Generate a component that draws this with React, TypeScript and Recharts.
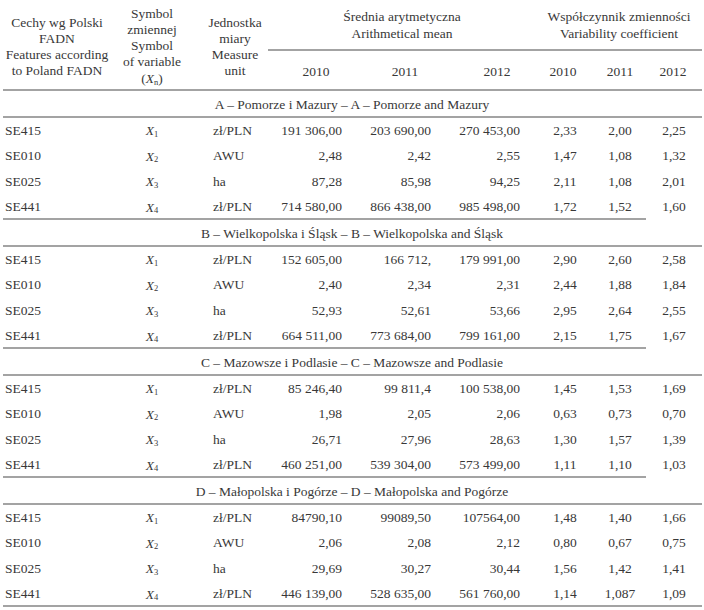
import { ScatterChart, Scatter, XAxis, YAxis, ReferenceLine } from 'recharts';

// --- table content ---
const HEAD_FEATURE = ['Cechy wg Polski', 'FADN', 'Features according', 'to Poland FADN'];
const HEAD_SYMBOL = ['Symbol', 'zmiennej', 'Symbol', 'of variable'];
const HEAD_UNIT = ['Jednostka', 'miary', 'Measure', 'unit'];
const HEAD_MEAN = ['Średnia arytmetyczna', 'Arithmetical mean'];
const HEAD_CV = ['Współczynnik zmienności', 'Variability coefficient'];
const YEARS = ['2010', '2011', '2012'];

const FEATURES = ['SE415', 'SE010', 'SE025', 'SE441'];
const SYMBOLS = ['1', '2', '3', '4'];
const UNITS = ['zł/PLN', 'AWU', 'ha', 'zł/PLN'];

const REGIONS = [
  'A – Pomorze i Mazury – A – Pomorze and Mazury',
  'B – Wielkopolska i Śląsk – B – Wielkopolska and Śląsk',
  'C – Mazowsze i Podlasie – C – Mazowsze and Podlasie',
  'D – Małopolska i Pogórze – D – Małopolska and Pogórze',
];

// mean 2010, 2011, 2012 | variability coefficient 2010, 2011, 2012
const REGION_A = [
  ['191 306,00', '203 690,00', '270 453,00', '2,33', '2,00', '2,25'],
  ['2,48', '2,42', '2,55', '1,47', '1,08', '1,32'],
  ['87,28', '85,98', '94,25', '2,11', '1,08', '2,01'],
  ['714 580,00', '866 438,00', '985 498,00', '1,72', '1,52', '1,60'],
];
const REGION_B = [
  ['152 605,00', '166 712,', '179 991,00', '2,90', '2,60', '2,58'],
  ['2,40', '2,34', '2,31', '2,44', '1,88', '1,84'],
  ['52,93', '52,61', '53,66', '2,95', '2,64', '2,55'],
  ['664 511,00', '773 684,00', '799 161,00', '2,15', '1,75', '1,67'],
];
const REGION_C = [
  ['85 246,40', '99 811,4', '100 538,00', '1,45', '1,53', '1,69'],
  ['1,98', '2,05', '2,06', '0,63', '0,73', '0,70'],
  ['26,71', '27,96', '28,63', '1,30', '1,57', '1,39'],
  ['460 251,00', '539 304,00', '573 499,00', '1,11', '1,10', '1,03'],
];
const REGION_D = [
  ['84790,10', '99089,50', '107564,00', '1,48', '1,40', '1,66'],
  ['2,06', '2,08', '2,12', '0,80', '0,67', '0,75'],
  ['29,69', '30,27', '30,44', '1,56', '1,42', '1,41'],
  ['446 139,00', '528 635,00', '561 760,00', '1,14', '1,087', '1,09'],
];
const REGION_ROWS = [REGION_A, REGION_B, REGION_C, REGION_D];

// --- layout ---
const W = 704;
const H = 610;
const FONT = '"Liberation Serif", "Times New Roman", serif';
const INK = '#383838';
const RULE = '#858585';
const RULE_W = 1.5;

const X_LEFT = 3;
const X_RIGHT = 702;
const X_PARTIAL = 646;
const COL_FEATURE = 5;
const COL_SYMBOL = 152;
const COL_UNIT = 213;
const COL_MEAN = [342, 431, 520]; // right edges
const COL_CV = [565, 620, 674]; // centres
const HEAD_YEAR_X = [316, 405, 497, 563, 620, 673];

const SECTION_TOP = 90;
const SECTION_H = 129;
const SECTION_HEAD = 27;
const ROW_H = 25.5;

type CellT = {
  x: number;
  y: number;
  text?: string;
  anchor: 'start' | 'middle' | 'end';
  sym?: string;
  symHead?: boolean;
};

const cells: CellT[] = [];
HEAD_FEATURE.forEach((t, i) => cells.push({ x: 57, y: 22 + i * 16, text: t, anchor: 'middle' }));
HEAD_SYMBOL.forEach((t, i) => cells.push({ x: COL_SYMBOL, y: 13 + i * 16, text: t, anchor: 'middle' }));
cells.push({ x: COL_SYMBOL, y: 78, anchor: 'middle', symHead: true });
HEAD_UNIT.forEach((t, i) => cells.push({ x: 235, y: 22 + i * 16, text: t, anchor: 'middle' }));
HEAD_MEAN.forEach((t, i) => cells.push({ x: 402, y: 16 + i * 17, text: t, anchor: 'middle' }));
HEAD_CV.forEach((t, i) => cells.push({ x: 619, y: 16 + i * 17, text: t, anchor: 'middle' }));
[...YEARS, ...YEARS].forEach((t, i) => cells.push({ x: HEAD_YEAR_X[i], y: 71, text: t, anchor: 'middle' }));

const lines: { x1: number; x2: number; y: number }[] = [
  { x1: 268, x2: X_RIGHT, y: 50 },
  { x1: X_LEFT, x2: X_RIGHT, y: SECTION_TOP },
];

REGION_ROWS.forEach((rows, s) => {
  const top = SECTION_TOP + s * SECTION_H;
  cells.push({ x: 352, y: top + 14, text: REGIONS[s], anchor: 'middle' });
  lines.push({ x1: X_LEFT, x2: X_RIGHT, y: top + SECTION_HEAD });
  rows.forEach((vals, r) => {
    const y = top + SECTION_HEAD + 13 + r * ROW_H;
    cells.push({ x: COL_FEATURE, y, text: FEATURES[r], anchor: 'start' });
    cells.push({ x: COL_SYMBOL, y, anchor: 'middle', sym: SYMBOLS[r] });
    cells.push({ x: COL_UNIT, y, text: UNITS[r], anchor: 'start' });
    vals.slice(0, 3).forEach((v, c) => cells.push({ x: COL_MEAN[c], y, text: v, anchor: 'end' }));
    vals.slice(3).forEach((v, c) => cells.push({ x: COL_CV[c], y, text: v, anchor: 'middle' }));
  });
  const bottom = top + SECTION_H;
  lines.push({ x1: X_LEFT, x2: s < REGION_ROWS.length - 1 ? X_PARTIAL : X_RIGHT, y: bottom });
});

const CellText = (props: any) => {
  const { cx, cy, payload } = props;
  const common = {
    x: cx,
    y: cy,
    textAnchor: payload.anchor,
    dominantBaseline: 'central' as const,
    fontFamily: FONT,
    fontSize: 13.5,
    fill: INK,
  };
  if (payload.sym) {
    return (
      <text {...common}>
        <tspan fontStyle="italic">X</tspan>
        <tspan fontSize={8.5} dy={3.5}>{payload.sym}</tspan>
      </text>
    );
  }
  if (payload.symHead) {
    return (
      <text {...common}>
        (<tspan fontStyle="italic">X</tspan>
        <tspan fontSize={8.5} dy={3.5}>n</tspan>
        <tspan dy={-3.5}>)</tspan>
      </text>
    );
  }
  return <text {...common}>{payload.text}</text>;
};

export default function App() {
  return (
    <div style={{ position: 'absolute', left: 0, top: 0, background: '#fff' }}>
      <ScatterChart width={W} height={H} margin={{ top: 0, right: 0, bottom: 0, left: 0 }}>
        <XAxis type="number" dataKey="x" domain={[0, W]} hide allowDataOverflow />
        <YAxis type="number" dataKey="y" domain={[0, H]} hide reversed allowDataOverflow />
        {lines.map((l, i) => (
          <ReferenceLine
            key={i}
            segment={[{ x: l.x1, y: l.y }, { x: l.x2, y: l.y }]}
            stroke={RULE}
            strokeWidth={RULE_W}
          />
        ))}
        <Scatter data={cells} shape={CellText} isAnimationActive={false} />
      </ScatterChart>
    </div>
  );
}
